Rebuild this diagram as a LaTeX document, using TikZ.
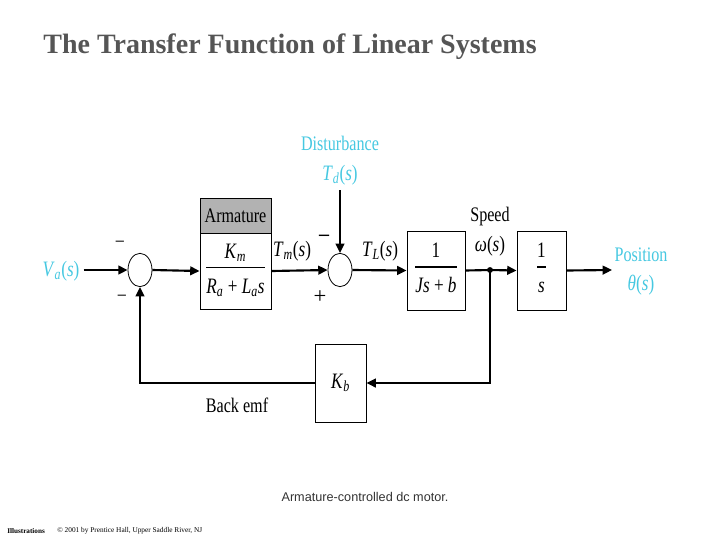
\documentclass[tikz,border=0pt]{standalone}
\usepackage{fontspec}
\setmainfont{Liberation Serif}[FakeStretch=0.78]
\newfontfamily\titlefont{Liberation Serif}
\newfontfamily\capfont{Liberation Sans}
\usetikzlibrary{arrows.meta,shapes.geometric}
\definecolor{lblcyan}{RGB}{70,200,225}
\definecolor{titlegray}{RGB}{85,85,85}
\definecolor{hdrgray}{RGB}{178,178,178}
\newcommand\iv[1]{\textit{#1}}
\newcommand\sbi[1]{\textsubscript{\textit{#1}}}
\newcommand\myfrac[2]{\setlength{\arrayrulewidth}{1pt}\begin{tabular}{@{}c@{}}#1\\[1pt]\hline\rule{0pt}{19pt}#2\end{tabular}}
\begin{document}
\begin{tikzpicture}[x=0.75pt,y=-0.75pt,
  sig/.style={line width=1.6pt},
  arr/.style={sig,-{Triangle[length=7pt,width=6.5pt]}},
  blk/.style={draw,line width=0.7pt,inner sep=0pt},
  sumj/.style={draw,ellipse,line width=0.6pt,minimum width=18pt,minimum height=25pt,inner sep=0pt},
  lbl/.style={font=\fontsize{15.5}{17}\selectfont,inner sep=0pt},
  mlbl/.style={font=\fontsize{16.5}{18}\selectfont,inner sep=0pt},
  clbl/.style={lbl,text=lblcyan}]
\useasboundingbox (0,0) rectangle (720,540);

% title
\node[font=\titlefont\fontsize{21}{24}\selectfont\bfseries,text=titlegray] (title) at (290,47) {The Transfer Function of Linear Systems};

% junctions
\node[sumj] (sum1) at (140,270) {};
\node[sumj] (sum2) at (340,270) {};

% blocks
\node[blk,fill=hdrgray,minimum width=53.25pt,minimum height=26.25pt,lbl] (armh) at (235.5,215.5) {Armature};
\node[blk,minimum width=53.25pt,minimum height=57pt,mlbl] (arm) at (235.5,271) {\myfrac{\iv{K}\sbi{m}}{\iv{R}\sbi{a} + \iv{L}\sbi{a}\iv{s}}};
\node[blk,minimum width=43.5pt,minimum height=59.25pt,mlbl] (jsb) at (436,270.5) {\myfrac{1}{\iv{Js} + \iv{b}}};
\node[blk,minimum width=36.75pt,minimum height=59.25pt,mlbl] (integ) at (541.5,270.5) {\myfrac{1}{\iv{s}}};
\node[blk,minimum width=38.25pt,minimum height=58.5pt,mlbl] (kb) at (340.5,383) {\iv{K}\sbi{b}};

% labels
\node[clbl,font=\fontsize{16.5}{18}\selectfont] (va) at (61,271) {\iv{V}\sbi{a}(\iv{s})};
\node[clbl] (dist) at (340,143) {Disturbance};
\node[clbl,font=\fontsize{16.5}{18}\selectfont] (td) at (340,175) {\iv{T}\sbi{d}(\iv{s})};
\node[mlbl] (tm) at (292,251) {\iv{T}\sbi{m}(\iv{s})};
\node[mlbl] (tl) at (380,251) {\iv{T}\sbi{L}(\iv{s})};
\node[lbl] (speed) at (490,217) {Speed};
\node[mlbl] (omega) at (490,246) {\iv{ω}(\iv{s})};
\node[clbl] (pos) at (641,255) {Position};
\node[clbl,font=\fontsize{16.5}{18}\selectfont] (theta) at (641,285) {\iv{θ}(\iv{s})};
\node[lbl] (bemf) at (237,405) {Back emf};
\node[lbl] (m1) at (120,244) {–};
\node[lbl] (m2) at (122,298) {–};
\node[font=\titlefont\fontsize{15}{17}\selectfont\bfseries,inner sep=0pt] (m3) at (324,238) {–};
\node[font=\titlefont\fontsize{17}{19}\selectfont,inner sep=0pt] (p1) at (320,297) {+};

% connectors
\coordinate (tap) at (490,270);
\coordinate (outp) at (612,270);
\draw[arr] (va.east |- sum1.west) ++(4,0) -- (sum1.west);
\draw[arr] (sum1.east) -- (arm.west);
\draw[arr] (arm.east) -- (sum2.west);
\draw[arr] (td.south) ++(0,5) -- (sum2.north);
\draw[arr] (sum2.east) -- (jsb.west);
\draw[sig] (jsb.east) -- (tap);
\draw[arr] (tap) -- (integ.west);
\fill (tap) circle (2.2pt);
\draw[arr] (integ.east) -- (outp);
\draw[arr] (tap) |- (kb.east);
\draw[arr] (kb.west) -| (sum1.south);

% caption and footer
\node[font=\capfont\fontsize{9.5}{11}\selectfont,text=black!80] (cap) at (365,497) {Armature-controlled dc motor.};
\node[font=\titlefont\fontsize{5.4}{6}\selectfont\bfseries,anchor=west,inner sep=0pt] (ill) at (7,531) {Illustrations};
\node[font=\titlefont\fontsize{5.5}{6}\selectfont,anchor=west,inner sep=0pt] (copy) at (57,531) {© 2001 by Prentice Hall, Upper Saddle River, NJ};
\end{tikzpicture}
\end{document}
